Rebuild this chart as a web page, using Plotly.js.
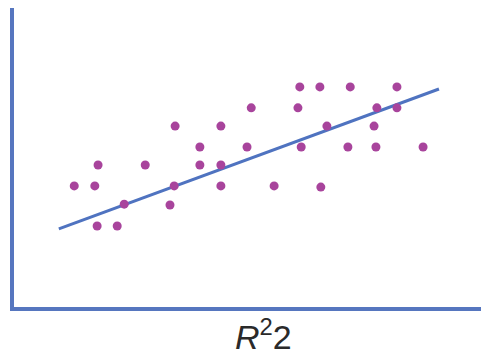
<!DOCTYPE html>
<html>
<head>
<meta charset="utf-8">
<script src="https://cdn.plot.ly/plotly-3.0.1.min.js"></script>
<style>html,body{margin:0;padding:0;background:#fff;}#chart{width:481px;height:356px;}</style>
</head>
<body>
<div id="chart"></div>
<script>
// Scatter points (arbitrary units 0-100)
const pointX = [12.9, 17.3, 18.0, 17.8, 22.1, 23.6, 28.1, 34.5, 34.3, 33.4, 39.8, 39.8, 44.3, 44.3, 44.3, 49.9,
                50.8, 55.7, 61.2, 60.8, 61.5, 65.5, 65.7, 67.0, 71.5, 72.0, 77.7, 77.1, 77.5, 82.0, 82.0, 87.6];
const pointY = [40.5, 40.5, 47.5, 27.1, 27.1, 34.4, 47.5, 60.5, 40.5, 34.1, 53.5, 47.5, 60.5, 47.5, 40.5, 53.5,
                66.6, 40.5, 73.6, 66.6, 53.5, 73.6, 40.1, 60.5, 53.5, 73.6, 66.6, 60.5, 53.5, 73.6, 66.6, 53.5];
// Fitted line endpoints
const lineX = [9.6, 91.0];
const lineY = [26.1, 72.9];
const axisLabel = '<i>R</i><sup>2</sup>2';

const traces = [
  {x: lineX, y: lineY, type: 'scatter', mode: 'lines',
   line: {color: '#4f73c0', width: 3}, hoverinfo: 'skip'},
  {x: pointX, y: pointY, type: 'scatter', mode: 'markers',
   marker: {color: '#a8449c', size: 9}, hoverinfo: 'skip'}
];

const layout = {
  width: 481, height: 356,
  margin: {l: 14, r: 0, t: 8, b: 49},
  paper_bgcolor: '#fff', plot_bgcolor: '#fff',
  showlegend: false,
  xaxis: {range: [0, 100], showgrid: false, zeroline: false, showticklabels: false, ticks: '',
          showline: true, linecolor: '#5676bf', linewidth: 4},
  yaxis: {range: [0, 100], showgrid: false, zeroline: false, showticklabels: false, ticks: '',
          showline: true, linecolor: '#5676bf', linewidth: 4},
  annotations: [{
    text: axisLabel, xref: 'paper', yref: 'paper', x: 0.535, y: -0.012,
    xanchor: 'center', yanchor: 'top', showarrow: false,
    font: {family: 'Liberation Sans, Arial, sans-serif', size: 34, color: '#2a2a2a'}
  }]
};

Plotly.newPlot('chart', traces, layout, {staticPlot: true, displayModeBar: false});
</script>
</body>
</html>
